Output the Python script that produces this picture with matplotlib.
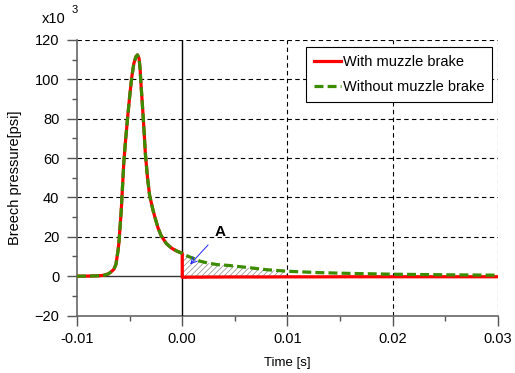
import numpy as np
import matplotlib
matplotlib.use("Agg")
import matplotlib.pyplot as plt
from matplotlib.ticker import MultipleLocator

# breech pressure, x10^3 psi
t_pre = [-0.0100, -0.0090, -0.0080, -0.0075, -0.0070, -0.0067, -0.0065, -0.0063,
         -0.0061, -0.0060, -0.0058, -0.00555, -0.0054, -0.0052, -0.0050, -0.0048,
         -0.0046, -0.0044, -0.00425, -0.0041, -0.0040, -0.00395, -0.0037, -0.0035,
         -0.0033, -0.0031, -0.0028, -0.0026, -0.0023, -0.0020, -0.0015, -0.0010,
         -0.0005, 0.0]
p_pre = [0.0, 0.05, 0.2, 0.4, 1.2, 2.5, 3.5, 6.0,
         13.0, 18.0, 33.0, 58.0, 68.0, 80.0, 91.0, 101.0,
         108.0, 111.5, 112.4, 110.5, 105.0, 100.0, 80.0, 62.0,
         50.0, 41.0, 34.0, 30.0, 24.5, 20.5, 16.5, 14.2,
         12.7, 11.6]

t_post = [0.0, 0.0005, 0.001, 0.0017, 0.0025, 0.0033, 0.0045, 0.0064, 0.008,
          0.010, 0.013, 0.016, 0.020, 0.025, 0.030]
p_without = [11.6, 10.2, 9.2, 7.6, 6.6, 5.9, 5.4, 4.3, 3.3,
             2.5, 1.8, 1.4, 1.0, 0.7, 0.5]
p_with = [-0.6, -0.5, -0.5, -0.5, -0.45, -0.45, -0.4, -0.4, -0.4,
          -0.35, -0.35, -0.3, -0.3, -0.3, -0.3]

x_ticks = [-0.01, 0.0, 0.01, 0.02, 0.03]
x_ticklabels = ["-0.01", "0.00", "0.01", "0.02", "0.03"]

RED = "#ff0000"
GREEN = "#3c8c00"

plt.rcParams["font.family"] = ["Liberation Sans", "DejaVu Sans"]
plt.rcParams["hatch.linewidth"] = 0.5

fig = plt.figure(figsize=(5.15, 3.73), dpi=100)
ax = fig.add_axes([0.1495, 0.154, 0.8175, 0.739])

t_red = np.array(t_pre + t_post)
p_red = np.array(p_pre + p_with)
t_grn = np.array(t_pre + t_post[1:])
p_grn = np.array(p_pre + p_without[1:])

# hatched region between the two curves (area A)
tp, pw, pn = np.array(t_post), np.array(p_with), np.array(p_without)
m = tp <= 0.0105
ax.fill_between(tp[m], pw[m], pn[m], facecolor="none", edgecolor="#8a8a8a",
                hatch="//////", linewidth=0, zorder=2)

ax.plot(t_red, p_red, color=RED, lw=2.3, zorder=4, label="With muzzle brake")
ax.plot(t_grn, p_grn, color=GREEN, lw=2.3, ls=(0, (2.8, 1.3)), zorder=5,
        label="Without muzzle brake")

# grid: dashed, zero lines solid
for y in range(20, 121, 20):
    ax.axhline(y, color="black", lw=0.8, ls=(0, (4, 3)), zorder=1)
for x in [0.01, 0.02, 0.03]:
    ax.axvline(x, color="black", lw=0.8, ls=(0, (4, 3)), zorder=1)
ax.axhline(0, color="#333333", lw=1.0, zorder=1)
ax.axvline(0, color="black", lw=1.0, zorder=3)

ax.set_xlim(-0.01, 0.03)
ax.set_ylim(-20, 120)
ax.set_xticks(x_ticks)
ax.set_xticklabels(x_ticklabels)
ax.xaxis.set_minor_locator(MultipleLocator(0.005))
ax.yaxis.set_major_locator(MultipleLocator(20))
ax.yaxis.set_minor_locator(MultipleLocator(10))
ax.tick_params(which="major", direction="out", length=7.2, width=1, color="#555555",
               labelsize=10.5)
ax.tick_params(axis="x", which="major", pad=4.8)
ax.tick_params(axis="y", which="major", pad=5.5)
ax.tick_params(which="minor", direction="out", length=3.6, width=1, color="#555555")
for s in ["top", "right"]:
    ax.spines[s].set_visible(False)
for s in ["left", "bottom"]:
    ax.spines[s].set_color("#666666")
    ax.spines[s].set_linewidth(1.2)

ax.set_ylabel("Breech pressure[psi]", fontsize=10.5, labelpad=9)
ax.set_xlabel("Time [s]", fontsize=9.5, labelpad=8)

fig.text(0.082, 0.938, "x10", fontsize=10.5)
fig.text(0.139, 0.965, "3", fontsize=8)

ax.annotate("A", xy=(0.00075, 6.0), xytext=(0.0036, 22.5), fontsize=11,
            fontweight="bold", ha="center", va="center", zorder=6,
            arrowprops=dict(arrowstyle="->", color="#2020ff", lw=0.7,
                            shrinkA=4, shrinkB=0))

leg = ax.legend(loc="upper right", bbox_to_anchor=(0.997, 0.99), fontsize=10.5,
                frameon=True, fancybox=False, edgecolor="black", framealpha=1,
                handlelength=1.9, handletextpad=0.1, borderpad=0.55,
                labelspacing=0.75, borderaxespad=0.3)
leg.get_frame().set_linewidth(0.8)
leg.set_zorder(10)

fig.savefig("out.png", dpi=100)
